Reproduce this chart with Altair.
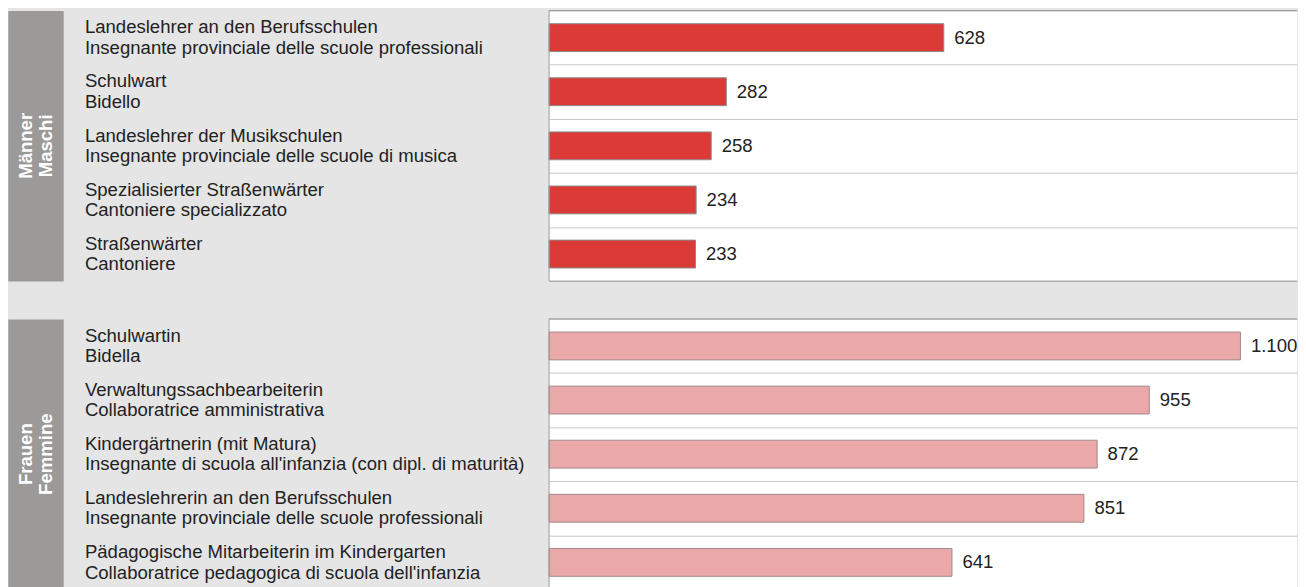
import altair as alt
import pandas as pd

FONT = "Liberation Sans"

men_de = ["Landeslehrer an den Berufsschulen", "Schulwart", "Landeslehrer der Musikschulen",
          "Spezialisierter Straßenwärter", "Straßenwärter"]
men_it = ["Insegnante provinciale delle scuole professionali", "Bidello",
          "Insegnante provinciale delle scuole di musica", "Cantoniere specializzato", "Cantoniere"]
men_values = [628, 282, 258, 234, 233]

women_de = ["Schulwartin", "Verwaltungssachbearbeiterin", "Kindergärtnerin (mit Matura)",
            "Landeslehrerin an den Berufsschulen", "Pädagogische Mitarbeiterin im Kindergarten"]
women_it = ["Bidella", "Collaboratrice amministrativa",
            "Insegnante di scuola all'infanzia (con dipl. di maturità)",
            "Insegnante provinciale delle scuole professionali",
            "Collaboratrice pedagogica di scuola dell'infanzia"]
women_values = [1100, 955, 872, 851, 641]

men_group = ["Männer", "Maschi"]
women_group = ["Frauen", "Femmine"]

X_MAX = 1190
W = 752
H = 272
FS = 18.67


def panel(de, it, vals, fill, stroke, group):
    df = pd.DataFrame({"de": de, "it": it, "value": vals})
    df["job"] = df["de"] + " / " + df["it"]
    y = alt.Y(
        "job:N", sort=None,
        scale=alt.Scale(paddingInner=0, paddingOuter=0),
        axis=alt.Axis(title=None, labels=False, ticks=False, domain=False,
                      grid=True, tickBand="extent", gridColor="#c8c8c8", gridWidth=1),
    )
    x = alt.X("value:Q", scale=alt.Scale(domain=[0, X_MAX]), axis=None)
    base = alt.Chart(df).encode(y=y, x=x)
    bars = base.mark_bar(height=28, color=fill, stroke=stroke, strokeWidth=1)
    values = base.transform_calculate(
        lbl="replace(format(datum.value, ','), ',', '.')"
    ).mark_text(align="left", baseline="middle", dx=10.5, font=FONT, fontSize=FS,
                color="#222222").encode(text="lbl:N")
    line1 = base.mark_text(align="left", baseline="middle", dy=-10.3, font=FONT,
                           fontSize=FS, color="#222222").encode(
        x=alt.value(-466.7), text="de:N")
    line2 = base.mark_text(align="left", baseline="middle", dy=10.3, font=FONT,
                           fontSize=FS, color="#222222").encode(
        x=alt.value(-466.7), text="it:N")

    gdf = pd.DataFrame({"g": [0]})
    one = alt.Chart(gdf)
    strip = one.mark_rect(color="#9b9a98").encode(
        x=alt.value(-543.7), x2=alt.value(-488), y=alt.value(0.5), y2=alt.value(H + 0.5))
    g1 = one.mark_text(text=group[0], angle=270, align="center", baseline="middle",
                       font=FONT, fontSize=FS, fontWeight="bold", color="white").encode(
        x=alt.value(-526), y=alt.value(H / 2))
    g2 = one.mark_text(text=group[1], angle=270, align="center", baseline="middle",
                       font=FONT, fontSize=FS, fontWeight="bold", color="white").encode(
        x=alt.value(-505.3), y=alt.value(H / 2))
    top = one.mark_rule(color="#999999", strokeWidth=1).encode(
        x=alt.value(0), x2=alt.value(W), y=alt.value(0))
    bottom = one.mark_rule(color="#999999", strokeWidth=1).encode(
        x=alt.value(0), x2=alt.value(W), y=alt.value(H))
    left = one.mark_rule(color="#999999", strokeWidth=1).encode(
        x=alt.value(0), y=alt.value(0), y2=alt.value(H))
    return alt.layer(bars, values, line1, line2, strip, g1, g2, top, bottom, left).properties(
        width=W, height=H)


chart = alt.vconcat(
    panel(men_de, men_it, men_values, "#db3a37", "#8a8a8a", men_group),
    panel(women_de, women_it, women_values, "#eba8a8", "#a08888", women_group),
    spacing=36,
).properties(
    background="#e5e5e5",
    padding={"left": 0, "top": 0, "right": 0, "bottom": 0},
).configure_view(
    fill="white", strokeWidth=0
)

chart.save("out.html", embed_options={"renderer": "svg", "actions": False})
